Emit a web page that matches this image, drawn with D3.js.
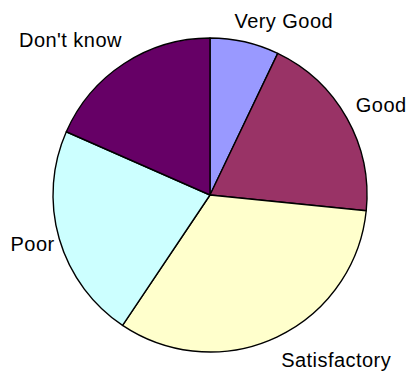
<!DOCTYPE html>
<html>
<head>
<meta charset="utf-8">
<script src="https://cdn.jsdelivr.net/npm/d3@7"></script>
<style>
  html, body { margin: 0; padding: 0; background: #fff; }
  svg { display: block; }
  text { font-family: "Liberation Sans", Arial, sans-serif; font-size: 20px; letter-spacing: 0.45px; fill: #000; }
</style>
</head>
<body>
<svg id="chart" width="409" height="372"></svg>
<script>
// Survey responses (percent of respondents)
const categories = ["Very Good", "Good", "Satisfactory", "Poor", "Don't know"];
const values = [7.1, 19.5, 32.8, 22.2, 18.4];
const colors = ["#9999FF", "#993366", "#FFFFCC", "#CCFFFF", "#660066"];

// Small per-label layout adjustments (px) applied after the radial placement
const labelNudge = [[-12, -3], [2, -4], [1, 7], [3, 0], [2, -8]];

const width = 409, height = 372;
const cx = 210, cy = 195, radius = 157;

const svg = d3.select("#chart");
const g = svg.append("g").attr("transform", `translate(${cx},${cy})`);

const pie = d3.pie().sort(null).value(d => d.value);
const arcs = pie(categories.map((c, i) => ({ name: c, value: values[i], color: colors[i] })));

const arc = d3.arc().innerRadius(0).outerRadius(radius);

g.selectAll("path.slice")
  .data(arcs)
  .join("path")
  .attr("class", "slice")
  .attr("d", arc)
  .attr("fill", d => d.data.color)
  .attr("stroke", "#000")
  .attr("stroke-width", 1.4)
  .attr("stroke-linejoin", "round");

// Labels sit just outside the rim at each slice's mid angle
const labelR = radius + 8;
const halfH = 10;
g.selectAll("text.label")
  .data(arcs)
  .join("text")
  .attr("class", "label")
  .each(function (d, i) {
    const a = (d.startAngle + d.endAngle) / 2;
    const s = Math.sin(a), c = Math.cos(a);
    const x = labelR * s + labelNudge[i][0];
    const y = -labelR * c - c * halfH + labelNudge[i][1];
    d3.select(this)
      .attr("x", x)
      .attr("y", y)
      .attr("dy", "0.35em")
      .attr("text-anchor", s >= 0 ? "start" : "end")
      .text(d.data.name);
  });
</script>
</body>
</html>
